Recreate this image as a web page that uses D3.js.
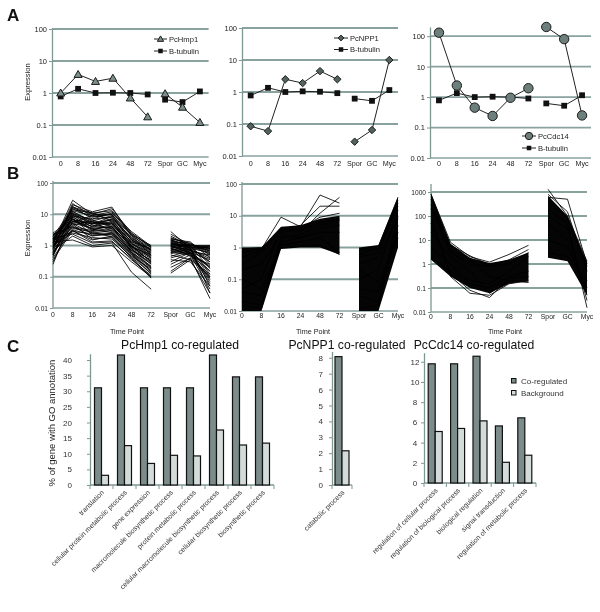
<!DOCTYPE html>
<html><head><meta charset="utf-8">
<script src="https://cdn.jsdelivr.net/npm/d3@7"></script>
<style>body{margin:0;background:#fff}svg{will-change:transform}svg text{font-family:"Liberation Sans",Arial,Helvetica,sans-serif}</style>
</head><body><svg id="c" width="600" height="612"></svg>
<script>
// ---------------- DATA ----------------
const timePoints = ["0","8","16","24","48","72","Spor","GC","Myc"];
const logTickLabels = ["100","10","1","0.1","0.01"];
const logTickLabelsB3 = ["1000","100","10","1","0.1","0.01"];

// Panel A
const pcHmp1   = [1.0, 3.8, 2.3, 2.9, 0.7, 0.18, 0.95, 0.36, 0.12];
const tubulin1 = [0.78, 1.35, 1.0, 1.02, 1.0, 0.9, 0.62, 0.52, 1.12];
const pcNPP1   = [0.085, 0.06, 2.5, 1.9, 4.5, 2.5, 0.028, 0.065, 10];
const tubulin2 = [0.78, 1.35, 1.0, 1.05, 1.02, 0.92, 0.62, 0.53, 1.15];
const pcCdc14  = [130, 2.4, 0.45, 0.24, 0.95, 1.95, 200, 80, 0.25];
const tubulin3 = [0.78, 1.35, 1.0, 1.03, 1.0, 0.9, 0.62, 0.52, 1.15];

// Panel B: co-regulated profiles
const profilesB1 = [
 [1.2,28,10,15,2.5,0.9,1.5,1.0,0.8],[0.8,20,12,17,2,0.5,2.8,0.8,0.05],[2.0,15,8,10,1.5,0.7,1.2,0.9,0.3],
 [1.5,12,6,9,1.2,0.4,1.0,0.7,0.1],[0.5,10,5,7,1,0.3,0.8,1.1,0.6],[1.0,8,4,6,0.8,0.2,0.6,0.5,0.04],
 [2.5,7,3,5,0.9,0.5,1.8,1.0,0.9],[0.3,6,3.5,4,0.6,0.15,0.4,0.6,0.2],[1.8,5,2.5,3,0.7,0.35,0.25,0.5,0.15],
 [0.9,4,2,2.5,0.5,0.12,0.15,0.4,0.02],[1.1,3,1.5,2,0.4,0.1,1.3,1.2,0.5],[0.7,2,1,1.2,0.14,0.04,0.9,0.7,0.3],
 [1.3,1.5,0.9,1.0,0.3,0.1,0.5,0.35,0.03],[0.25,9,7,8,1.5,0.6,1.1,1.0,1.0],[1.6,14,11,6,1.3,0.8,0.7,0.9,0.7],
 [0.6,5.5,9,12,2.2,1.0,1.4,0.8,0.12],[1.4,11,4.5,3.5,1,0.45,0.3,0.6,0.08],[2.2,6.5,5.5,4.5,1.1,0.6,1.6,1.3,0.4],
 [0.4,3.5,2.8,3.2,0.8,0.25,0.85,0.45,0.25],[1.0,2.5,1.8,1.6,0.45,0.18,1.0,0.55,0.06],[0.8,18,7,11,2.8,0.95,0.55,0.75,0.9],
 [1.9,9.5,3.8,5.5,0.95,0.3,2.0,0.95,0.18],[0.55,4.5,6,2.8,0.6,0.22,0.75,0.65,0.5],[1.25,7.5,2.2,2.2,0.55,0.14,1.15,0.85,0.03],
 [0.35,3,1.3,1.4,0.35,0.11,0.2,0.4,0.1],[1.7,13,9,7.5,1.8,0.75,0.95,1.05,0.75],[0.95,6,5,5,1.4,0.55,1.25,0.6,0.35],
 [2.3,4,3,3.5,0.75,0.28,0.65,0.55,0.2],[0.65,16,10,9.5,2,0.85,1.05,0.9,0.55],[1.45,2.8,2.4,2.5,0.65,0.2,1.35,0.7,0.15],
 [1.1,22,8.5,10,2.2,0.7,1.7,1.15,0.65],[0.45,8.5,3.2,4.2,0.85,0.32,0.45,0.7,0.45],[2.1,5.8,4.2,7,1.6,0.65,0.9,0.6,0.07],
 [0.75,3.8,2.6,1.9,0.5,0.16,1.45,0.95,0.25],[1.35,10.5,6.5,4,0.9,0.38,0.35,0.3,0.05],[0.85,7,3.3,2.6,0.7,0.26,1.1,0.8,0.6],
 [1.55,4.8,1.6,1.8,0.42,0.13,0.13,0.35,0.12],[0.5,12.5,5.2,6.5,1.25,0.5,2.3,1.05,0.8],[1.75,2.3,1.2,1.3,0.38,0.09,0.8,0.5,0.09],
 [0.9,17,11,13,2.4,0.88,0.6,0.85,0.95],[1.05,5.2,3.6,3.8,0.95,0.42,0.95,0.75,0.38],[1.65,8.8,5.8,5.2,1.15,0.48,1.2,1.0,0.7],
 [0.6,3.2,2.1,2.3,0.58,0.19,0.7,0.58,0.22],[1.2,6.8,4.8,8.5,1.7,0.72,1.55,0.9,0.85]
];
// dense bundles: envelope (upper/lower) + visible outlying profiles
const bandB2Upper = [1.0, 1.0, 4.5, 5, 8, 10, 1.0, 1.2, 40];
const bandB2Lower = [0.01, 0.01, 0.9, 1.0, 1.0, 0.6, 0.01, 0.01, 1.0];
const profilesB2 = [
 [0.7,0.9,9,4.5,45,25,0.9,1.1,38],[0.5,0.8,4,3,12,38,0.6,1.0,30],[0.3,0.7,3.5,5,20,20,0.8,0.9,25],
 [0.9,1.0,3,4,9,12,0.5,0.7,20],[0.02,0.015,2,2.5,5,7,0.03,0.02,10],[0.015,0.012,1.5,2,3,3,0.012,0.015,5],
 [0.04,0.03,1.2,1.5,2,0.7,0.05,0.04,3],[0.1,0.05,1,1.1,1.2,0.6,0.2,0.08,2],[0.2,0.3,2.5,2,4,5,0.3,0.5,8],
 [0.05,0.1,4,3.5,6,8,0.1,0.2,15]
];
const bandB3Upper = [900, 7, 1.8, 1.1, 1.5, 3, 700, 100, 1.2];
const bandB3Lower = [1.5, 0.3, 0.1, 0.06, 0.15, 0.2, 1.8, 1.3, 0.05];
const profilesB3 = [
 [800,8,2,1.2,2.5,6,1300,100,1.3],[500,6,2.2,0.9,1.5,4,600,500,1.0],[300,4,1.5,0.3,0.2,0.17,800,150,0.5],
 [100,0.3,0.06,0.05,0.15,0.2,200,50,0.015],[50,0.4,0.08,0.04,0.25,0.3,100,30,0.03],[20,2,0.5,0.06,0.2,0.18,50,10,0.05],
 [5,1,0.15,0.1,0.3,0.5,10,5,0.1],[2,0.5,0.2,0.15,0.5,2,3,2,0.2],[200,3,1,0.8,1,3,400,80,0.8]
];

// Panel C
const goHmp1 = ["translation","cellular protein metabolic process","gene expression","macromolecule biosynthetic process",
  "protein metabolic process","cellular macromolecule biosynthetic process","cellular biosynthetic process","biosynthetic process"];
const coHmp1 = [31.1, 41.6, 31.1, 31.1, 31.1, 41.6, 34.6, 34.6];
const bgHmp1 = [3.1, 12.6, 6.9, 9.5, 9.3, 17.6, 12.8, 13.4];
const goNPP1 = ["catabolic process"];
const coNPP1 = [8.07];
const bgNPP1 = [2.15];
const goCdc14 = ["regulation of cellular process","regulation of biological process","biological regulation",
  "signal transduction","regulation of metabolic process"];
const coCdc14 = [11.8, 11.8, 12.55, 5.65, 6.45];
const bgCdc14 = [5.1, 5.4, 6.15, 2.05, 2.75];
const ticksHmp1 = [0,5,10,15,20,25,30,35,40];
const ticksNPP1 = [0,1,2,3,4,5,6,7,8];
const ticksCdc14 = [0,2,4,6,8,10,12];
const legendC = ["Co-regulated","Background"];

// ---------------- DRAWING ----------------
const svg = d3.select("#c");
const GRID = "#8aa29e", AXIS = "#7d9793", TXT = "#222";
const seg1 = [0,1,2,3,4,5], seg2 = [6,7,8];

function panelLetter(t, x, y){
  svg.append("text").attr("x",x).attr("y",y).text(t)
    .attr("font-size",17).attr("font-weight","bold").attr("fill","#111");
}
panelLetter("A",7,21); panelLetter("B",7,179); panelLetter("C",7,352);

function logFrame(o){
  const g = svg.append("g");
  const y = d3.scaleLog().domain(o.yDom).range(o.yRange);
  const x = o.band ? d3.scaleBand().domain(timePoints).range([o.x0,o.x1])
                   : d3.scalePoint().domain(timePoints).range([o.x0,o.x1]);
  const cx = d => x(d) + (o.band ? x.bandwidth()/2 : 0);
  g.selectAll(".grid").data(o.grid).join("line")
    .attr("x1",o.x0).attr("x2",o.x1).attr("y1",d=>y(d)).attr("y2",d=>y(d))
    .attr("stroke",GRID).attr("stroke-width",1.8);
  g.append("line").attr("x1",o.x0).attr("x2",o.x1).attr("y1",o.yRange[0]).attr("y2",o.yRange[0])
    .attr("stroke",GRID).attr("stroke-width",1.3);
  const ya = g.append("g").attr("transform",`translate(${o.x0},0)`)
    .call(d3.axisLeft(y).tickValues(o.tickLabels.map(Number)).tickFormat((d,i)=>o.tickLabels[i]).tickSize(3).tickSizeOuter(0));
  ya.select(".domain").attr("stroke",AXIS).attr("stroke-width",1.3);
  if (o.axisTop !== undefined) ya.select(".domain").attr("d",`M0,${o.yRange[0]}V${o.axisTop}`);
  ya.selectAll(".tick line").attr("stroke",AXIS);
  ya.selectAll("text").attr("font-size",o.fs).attr("fill",TXT).attr("font-family",null).attr("dx",1);
  g.selectAll(".xl").data(timePoints).join("text")
    .attr("x",d=>cx(d)).attr("y",o.xLabY).attr("text-anchor","middle")
    .attr("font-size",o.fsX).attr("fill",TXT).text(d=>d);
  if (o.yTitle) g.append("text").attr("transform",`translate(${o.yTitleX},${o.yTitleY}) rotate(-90)`)
    .attr("text-anchor","middle").attr("font-size",o.fsY).attr("fill",TXT).text("Expression");
  if (o.xTitle) g.append("text").attr("x",o.xTitle[0]).attr("y",o.xTitle[1]).attr("text-anchor","middle")
    .attr("font-size",7.2).attr("fill",TXT).text("Time Point");
  return {g, x, y, cx};
}

function seriesLines(f, vals, color, w){
  const line = d3.line().x(i=>f.cx(timePoints[i])).y(i=>f.y(vals[i]));
  [seg1,seg2].forEach(s => f.g.append("path").attr("d",line(s)).attr("fill","none")
    .attr("stroke",color).attr("stroke-width",w));
}
function marker(g, type, x, y, k){
  k = k || 1;
  if (type==="tri") g.append("path").attr("d",`M${x},${y-4*k}L${x+4*k},${y+3*k}L${x-4*k},${y+3*k}Z`)
      .attr("fill","#7b8f8c").attr("stroke","#1a1a1a").attr("stroke-width",1);
  else if (type==="sq") g.append("rect").attr("x",x-2.9*k).attr("y",y-2.9*k).attr("width",5.8*k).attr("height",5.8*k).attr("fill","#111");
  else if (type==="dia") g.append("path").attr("d",`M${x},${y-3.7*k}L${x+3.7*k},${y}L${x},${y+3.7*k}L${x-3.7*k},${y}Z`)
      .attr("fill","#52635f").attr("stroke","#1a1a1a").attr("stroke-width",1);
  else if (type==="circ") g.append("circle").attr("cx",x).attr("cy",y).attr("r",4.7*k)
      .attr("fill","#6d7f7c").attr("stroke","#1a1a1a").attr("stroke-width",1);
}
function seriesMarkers(f, vals, type){
  vals.forEach((v,i)=>marker(f.g,type,f.cx(timePoints[i]),f.y(v)));
}
function legendA(f, items, x0, x1, y0, dy){
  items.forEach((it,k)=>{
    const yy = y0 + k*dy;
    f.g.append("line").attr("x1",x0).attr("x2",x1).attr("y1",yy).attr("y2",yy).attr("stroke","#222").attr("stroke-width",1);
    marker(f.g, it[1], (x0+x1)/2, yy, 0.78);
    f.g.append("text").attr("x",x1+2).attr("y",yy+2.6).attr("font-size",7.6).attr("fill",TXT).text(it[0]);
  });
}

// ---- Panel A ----
const aCommon = {band:true, tickLabels:logTickLabels, grid:[100,10,1,0.1], fs:7.5, fsX:7.2, fsY:7.6, yTitleX:30, yTitleY:82};
const A1 = logFrame({...aCommon, x0:52, x1:208.6, yDom:[0.01,100], yRange:[157,29], xLabY:166, yTitle:true});
seriesLines(A1, tubulin1, "#222", 1); seriesLines(A1, pcHmp1, "#222", 1);
seriesMarkers(A1, tubulin1, "sq"); seriesMarkers(A1, pcHmp1, "tri");
legendA(A1, [["PcHmp1","tri"],["B-tubulin","sq"]], 154, 167, 39, 12);

const A2 = logFrame({...aCommon, x0:242, x1:398, yDom:[0.01,100], yRange:[156,28], xLabY:166});
seriesLines(A2, tubulin2, "#222", 1); seriesLines(A2, pcNPP1, "#222", 1);
seriesMarkers(A2, tubulin2, "sq"); seriesMarkers(A2, pcNPP1, "dia");
legendA(A2, [["PcNPP1","dia"],["B-tubulin","sq"]], 334, 348, 38, 11.5);

const A3 = logFrame({...aCommon, x0:430, x1:591, yDom:[0.01,200], yRange:[158,27], xLabY:166});
seriesLines(A3, tubulin3, "#222", 1); seriesLines(A3, pcCdc14, "#222", 1);
seriesMarkers(A3, tubulin3, "sq"); seriesMarkers(A3, pcCdc14, "circ");
legendA(A3, [["PcCdc14","circ"],["B-tubulin","sq"]], 522, 536, 136, 12);

// ---- Panel B ----
function bundle(f, profiles, upper, lower){
  if (upper){
    const area = d3.area().x(i=>f.cx(timePoints[i])).y0(i=>f.y(lower[i])).y1(i=>f.y(upper[i]));
    [seg1,seg2].forEach(s=>f.g.append("path").attr("d",area(s)).attr("fill","#050505"));
  }
  profiles.forEach(p=>seriesLines(f, p, "#000", 0.85));
}
const bCommon = {band:false, fs:6.6, fsX:6.8, fsY:7.4, yTitleX:30};
const B1 = logFrame({...bCommon, x0:53, x1:210, yDom:[0.01,100], yRange:[308,183], tickLabels:logTickLabels,
  grid:[100,10,1,0.1], xLabY:317, yTitle:true, yTitleY:238, xTitle:[127,334], axisTop:181});
bundle(B1, profilesB1);
const B2 = logFrame({...bCommon, x0:242, x1:398, yDom:[0.01,100], yRange:[311,184], tickLabels:logTickLabels,
  grid:[100,10,1,0.1], xLabY:318, xTitle:[313,334], axisTop:182});
bundle(B2, profilesB2, bandB2Upper, bandB2Lower);
const B3 = logFrame({...bCommon, x0:431, x1:587, yDom:[0.01,1000], yRange:[312,192], tickLabels:logTickLabelsB3,
  grid:[1000,100,10,1,0.1], xLabY:319, xTitle:[505,334], axisTop:184});
bundle(B3, profilesB3, bandB3Upper, bandB3Lower);

// ---- Panel C ----
const DARK = "#7c8c8a", LIGHT = "#d4dcd9";
function barChart(o){
  const g = svg.append("g");
  const x = d3.scaleBand().domain(o.cats).range([o.x0,o.x1]);
  const y = d3.scaleLinear().domain(o.yDom).range(o.yRange);
  const bw = 7;
  const ya = g.append("g").attr("transform",`translate(${o.x0},0)`)
    .call(d3.axisLeft(y).tickValues(o.ticks).tickSize(3).tickSizeOuter(0).tickPadding(o.pad));
  ya.select(".domain").attr("stroke",AXIS).attr("stroke-width",1.3);
  ya.selectAll(".tick line").attr("stroke",AXIS);
  ya.selectAll("text").attr("font-size",8).attr("fill","#333").attr("font-family",null);
  if (o.labAnchor) ya.selectAll("text").attr("text-anchor",o.labAnchor).attr("x",o.labX);
  g.append("line").attr("x1",o.x0).attr("x2",o.x1).attr("y1",o.yRange[0]).attr("y2",o.yRange[0])
    .attr("stroke",AXIS).attr("stroke-width",1.3);
  const bounds = o.cats.map((c,i)=>x(c)).concat([o.x1]);
  g.selectAll(".xt").data(bounds).join("line").attr("x1",d=>d).attr("x2",d=>d)
    .attr("y1",o.yRange[0]).attr("y2",o.yRange[0]+4).attr("stroke",AXIS).attr("stroke-width",1);
  g.selectAll(".co").data(o.co).join("rect")
    .attr("x",(d,i)=>x(o.cats[i])+x.bandwidth()/2-bw).attr("width",bw)
    .attr("y",d=>y(d)).attr("height",d=>y(0)-y(d))
    .attr("fill",DARK).attr("stroke","#111").attr("stroke-width",1.2);
  g.selectAll(".bg").data(o.bg).join("rect")
    .attr("x",(d,i)=>x(o.cats[i])+x.bandwidth()/2).attr("width",bw)
    .attr("y",d=>y(d)).attr("height",d=>y(0)-y(d))
    .attr("fill",LIGHT).attr("stroke","#111").attr("stroke-width",1.2);
  g.selectAll(".cl").data(o.cats).join("text")
    .attr("transform",d=>`translate(${x(d)+x.bandwidth()/2+3},${o.yRange[0]+8}) rotate(-45)`)
    .attr("text-anchor","end").attr("font-size",7).attr("fill","#333").text(d=>d);
  g.append("text").attr("x",o.title[1]).attr("y",349).attr("text-anchor","middle")
    .attr("font-size",12.2).attr("fill","#111").text(o.title[0]);
  return {g,x,y};
}
barChart({cats:goHmp1, co:coHmp1, bg:bgHmp1, x0:90, x1:274, yDom:[0,42], yRange:[485,353.75],
  ticks:ticksHmp1, pad:15, title:["PcHmp1 co-regulated",180]});
svg.append("text").attr("transform","translate(55,423) rotate(-90)").attr("text-anchor","middle")
  .attr("font-size",9.5).attr("fill","#222").text("% of gene with GO annotation");
barChart({cats:goNPP1, co:coNPP1, bg:bgNPP1, x0:332, x1:352, yDom:[0,8.4], yRange:[485,351.4],
  ticks:ticksNPP1, pad:6, title:["PcNPP1 co-regulated",347]});
barChart({cats:goCdc14, co:coCdc14, bg:bgCdc14, x0:424, x1:536, yDom:[0,12.9], yRange:[483,352.7],
  ticks:ticksCdc14, pad:4, labAnchor:"middle", labX:-9, title:["PcCdc14 co-regulated",474]});
const lg = svg.append("g");
legendC.forEach((t,i)=>{
  const yy = 381 + i*12;
  lg.append("rect").attr("x",511.5).attr("y",yy-2.5).attr("width",4.5).attr("height",4.5)
    .attr("fill", i===0?DARK:LIGHT).attr("stroke","#111").attr("stroke-width",1);
  lg.append("text").attr("x",521).attr("y",yy+3).attr("font-size",8).attr("fill","#333").text(t);
});
</script></body></html>
